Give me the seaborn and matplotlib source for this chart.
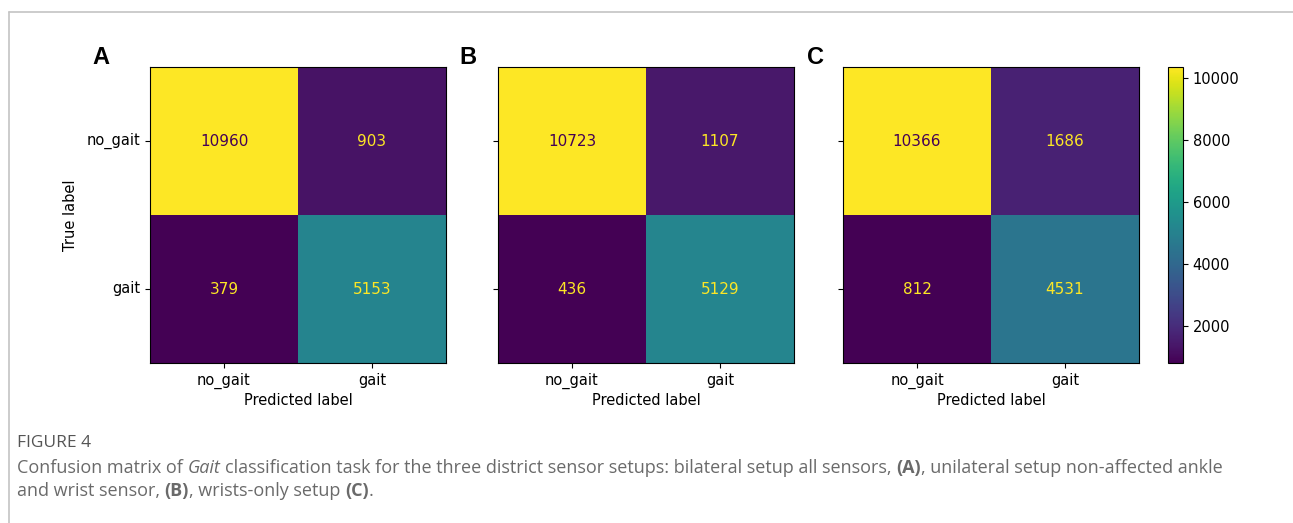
import numpy as np
import pandas as pd
import matplotlib
matplotlib.use("Agg")
import matplotlib.pyplot as plt
import seaborn as sns

# ---- data ----
class_labels = ["no_gait", "gait"]
panel_names = ["A", "B", "C"]
cm_A = [[10960, 903], [379, 5153]]
cm_B = [[10723, 1107], [436, 5129]]
cm_C = [[10366, 1686], [812, 4531]]
cbar_ticks = [2000, 4000, 6000, 8000, 10000]

sns.set_style("white")
plt.rcParams["font.family"] = ["DejaVu Sans"]
for k in ["text.color", "axes.labelcolor", "xtick.color", "ytick.color", "axes.edgecolor"]:
    plt.rcParams[k] = "black"

W, H = 1293, 523
fig = plt.figure(figsize=(W / 100, H / 100), dpi=100)

def fx(px):
    return px / W

def fy(py):
    return 1 - py / H

# frame lines of the figure box
fig.add_artist(plt.Line2D([fx(9), fx(9)], [fy(12), 0], color="#c4c4c4", lw=1.2))
fig.add_artist(plt.Line2D([fx(9), 1], [fy(12), fy(12)], color="#c4c4c4", lw=1.2))

cmap = plt.get_cmap("viridis")
lefts = [150, 498, 843]
label_x = [101, 468, 815]
top, bottom = 67, 363
size = 296
mats = [cm_A, cm_B, cm_C]
fs = 10.5

for i, (m, name, lx) in enumerate(zip(mats, panel_names, lefts)):
    ax = fig.add_axes([fx(lx), fy(bottom), fx(size), (bottom - top) / H])
    df = pd.DataFrame(m, index=class_labels, columns=class_labels)
    vmin, vmax = df.values.min(), df.values.max()
    sns.heatmap(df, ax=ax, cmap="viridis", vmin=vmin, vmax=vmax, annot=True, fmt="d",
                cbar=False, square=False, annot_kws={"fontsize": 11})
    thr = (vmin + vmax) / 2
    for t in ax.texts:
        v = int(t.get_text())
        t.set_color(cmap(0.0) if v > thr else cmap(1.0))
    for s in ax.spines.values():
        s.set_visible(True)
        s.set_color("black")
        s.set_linewidth(0.8)
    ax.tick_params(axis="both", which="both", length=3.5, width=0.8, color="black",
                   labelcolor="black", left=True, bottom=True, labelsize=fs, pad=3.5)
    ax.set_xticklabels(class_labels, rotation=0)
    if i == 0:
        ax.set_yticklabels(class_labels, rotation=0, va="center")
        ax.set_ylabel("True label", fontsize=fs, labelpad=6, color="black")
    else:
        ax.set_yticklabels([])
        ax.set_ylabel("")
    ax.set_xlabel("Predicted label", fontsize=fs, labelpad=3, color="black")
    fig.text(fx(label_x[i]), fy(57), name, fontsize=17, fontweight="bold", color="black",
             family=["Liberation Sans", "DejaVu Sans"], ha="center", va="center")
    if i == 2:
        cax = fig.add_axes([fx(1168), fy(bottom), fx(15), (bottom - top) / H])
        mappable = ax.collections[0]
        cb = fig.colorbar(mappable, cax=cax, ticks=cbar_ticks)
        cb.outline.set_linewidth(0.8)
        cb.outline.set_edgecolor("black")
        cb.ax.tick_params(labelsize=fs, length=3.5, width=0.8, color="black", labelcolor="black")

# ---- caption ----
cap_family = ["Open Sans", "DejaVu Sans"]
fig.text(fx(17), fy(443), "FIGURE 4", fontsize=12.5, color="#555555",
         family=cap_family, va="center", ha="left")

renderer = fig.canvas.get_renderer()
cap_fs = 13.0
cap_col = "#6a6a6a"

def width_of(s, **kw):
    t = fig.text(0, 0, s, fontsize=cap_fs, family=cap_family, **kw)
    w = t.get_window_extent(renderer).width
    t.remove()
    return w

space_w = width_of("a a") - width_of("aa")

def runs(x0, y0, parts):
    x = x0
    for txt, style in parts:
        kw = {}
        if style == "i":
            kw["fontstyle"] = "italic"
        if style == "b":
            kw["fontweight"] = "bold"
        lead = len(txt) - len(txt.lstrip(" "))
        trail = len(txt) - len(txt.rstrip(" "))
        core = txt.strip(" ")
        x += lead * space_w
        t = fig.text(x / W, fy(y0), core, fontsize=cap_fs, family=cap_family,
                     color=cap_col, va="center", ha="left", **kw)
        x += t.get_window_extent(renderer).width + trail * space_w

runs(17, 468, [("Confusion matrix of ", ""), ("Gait", "i"),
               (" classification task for the three district sensor setups: bilateral setup all sensors, ", ""),
               ("(A)", "b"), (", unilateral setup non-affected ankle", "")])
runs(17, 491, [("and wrist sensor, ", ""), ("(B)", "b"), (", wrists-only setup ", ""),
               ("(C)", "b"), (".", "")])

fig.savefig("out.png", dpi=100)
